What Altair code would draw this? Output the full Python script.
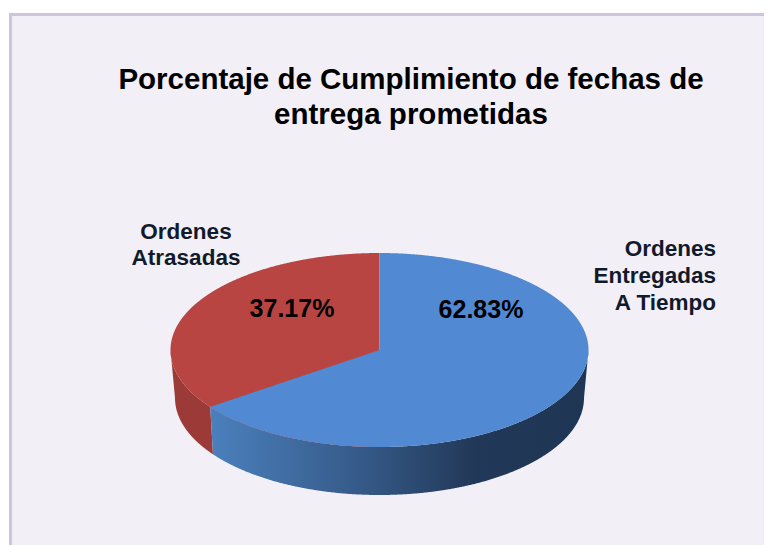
import numpy as np
import pandas as pd
import altair as alt

title_lines = ["Porcentaje de Cumplimiento de fechas de", "entrega prometidas"]
slices = ["Ordenes Entregadas A Tiempo", "Ordenes Atrasadas"]
shares = [62.83, 37.17]
pct_text = ["62.83%", "37.17%"]
pct_x = [481, 292]
pct_y = [310, 309]
label_lines = ["Ordenes", "Entregadas", "A Tiempo", "Ordenes", "Atrasadas"]
label_x = [716, 716, 716, 186, 186]
label_y = [249, 276, 303, 232, 258]
label_align = ["right", "right", "right", "center", "center"]

BG = "#f2eff6"
BORDER = "#cec4de"
BLUE = "#5189d3"
RED = "#b84542"
RED_DARK = "#9b3a37"

W, H = 756, 537
CX, CY, RX, RY = 379.5, 350.0, 209.0, 97.0
BCX, BCY, BRX, BRY = 379.5, 398.0, 204.5, 97.0
# On-screen angle of the red slice, compressed by the 3D perspective
PERSPECTIVE = 0.941
split = np.deg2rad(shares[1] * 3.6 * PERSPECTIVE)
SX, SY = CX - RX * np.sin(split), CY - RY * np.cos(split)
SBX = 213.0
SBY = BCY + BRY * np.sqrt(1 - ((SBX - BCX) / BRX) ** 2)


def top_lo(x):
    return CY + RY * np.sqrt(np.clip(1 - ((x - CX) / RX) ** 2, 0, 1))


def top_hi(x):
    return CY - RY * np.sqrt(np.clip(1 - ((x - CX) / RX) ** 2, 0, 1))


def wall_lo(x):
    d = np.abs(x - BCX)
    inside = BCY + BRY * np.sqrt(np.clip(1 - (d / BRX) ** 2, 0, 1))
    outside = BCY - (d - BRX) / (RX - BRX) * (BCY - CY)
    return np.where(d <= BRX, inside, outside)


def seam(x):
    return SY + (x - SX) / (SBX - SX) * (SBY - SY)


t = np.deg2rad(np.linspace(-90, 90, 721))
xs = CX + RX * np.sin(t)

# Red top
xr = xs[xs <= CX]
red_top = pd.DataFrame({"x": xr, "y": top_hi(xr), "y2": top_lo(xr)})

# Blue top: left part under the radial edge, right part the full ellipse
xb1 = np.r_[SX, xs[(xs > SX) & (xs < CX)], CX]
xb2 = np.r_[CX + 0.001, xs[xs > CX]]
blue_top = pd.DataFrame({
    "x": np.r_[xb1, xb2],
    "y": np.r_[CY + (CX - xb1) / (CX - SX) * (SY - CY), top_hi(xb2)],
    "y2": np.r_[top_lo(xb1), top_lo(xb2)],
})

# Walls
xw1 = np.r_[xs[xs < SX], SX, SBX]
red_wall = pd.DataFrame({"x": xw1, "y": np.r_[top_lo(xs[xs < SX]), SY, seam(SBX)], "y2": wall_lo(xw1)})
xw2 = np.r_[SX, SBX, xs[(xs > SBX)]]
blue_wall = pd.DataFrame({"x": xw2, "y": top_lo(xw2), "y2": np.r_[SY, wall_lo(xw2[1:])]})

xscale = alt.Scale(domain=[0, W], range=[0, W])
yscale = alt.Scale(domain=[0, H], range=[0, H])
X = alt.X("x:Q", scale=xscale, axis=None)
Y = alt.Y("y:Q", scale=yscale, axis=None)
Y2 = alt.Y2("y2:Q")


def area(df, fill):
    return alt.Chart(df).mark_area(fill=fill, interpolate="linear", stroke=None).encode(x=X, y=Y, y2=Y2)


bg = alt.Chart(pd.DataFrame({"a": [0]})).mark_rect(fill=BG).encode(
    x=alt.value(2), x2=alt.value(W + 10), y=alt.value(5), y2=alt.value(H + 10))
border_l = alt.Chart(pd.DataFrame({"a": [0]})).mark_rule(color=BORDER, strokeWidth=3).encode(
    x=alt.value(2.5), y=alt.value(5), y2=alt.value(H + 10))
border_t = alt.Chart(pd.DataFrame({"a": [0]})).mark_rule(color=BORDER, strokeWidth=3).encode(
    y=alt.value(6.5), x=alt.value(1), x2=alt.value(W + 10))

wall_grad = alt.Gradient(
    gradient="linear", x1=0, x2=1, y1=0, y2=0,
    stops=[
        alt.GradientStop(offset=0, color="#4b80bd"),
        alt.GradientStop(offset=0.4, color="#355a88"),
        alt.GradientStop(offset=0.7, color="#223858"),
        alt.GradientStop(offset=1, color="#1f3554"),
    ],
)

pct_df = pd.DataFrame({"x": np.array(pct_x) - 8, "y": np.array(pct_y) - 8, "t": pct_text})
pct = alt.Chart(pct_df).mark_text(
    font="Liberation Sans", fontWeight="bold", fontSize=25, color="#000000", baseline="middle"
).encode(x=X, y=Y, text="t:N")

labs = []
lab_df = pd.DataFrame({"x": np.array(label_x) - 8, "y": np.array(label_y) - 8, "t": label_lines, "a": label_align})
for al in ["right", "center"]:
    labs.append(
        alt.Chart(lab_df[lab_df["a"] == al]).mark_text(
            font="Liberation Sans", fontWeight="bold", fontSize=22.5, color="#111a2a", baseline="middle", align=al
        ).encode(x=X, y=Y, text="t:N")
    )


def shift(df):
    d = df.copy()
    d["x"] -= 8
    d["y"] -= 8
    d["y2"] -= 8
    return d


chart = alt.layer(
    bg, border_l, border_t,
    area(shift(red_wall), RED_DARK),
    area(shift(blue_wall), wall_grad),
    area(shift(red_top), RED),
    area(shift(blue_top), BLUE),
    pct, *labs,
).properties(
    width=W, height=H, padding=0,
    autosize=alt.AutoSizeParams(type="none"),
    background="#ffffff",
    title=alt.TitleParams(
        text=title_lines, anchor="middle", orient="top", dx=25, dy=126,
        font="Liberation Sans", fontWeight="bold", fontSize=29.5, lineHeight=35, color="#000000",
    ),
).configure_view(stroke=None)

chart.save("out.html", embed_options={"renderer": "svg", "actions": False})
